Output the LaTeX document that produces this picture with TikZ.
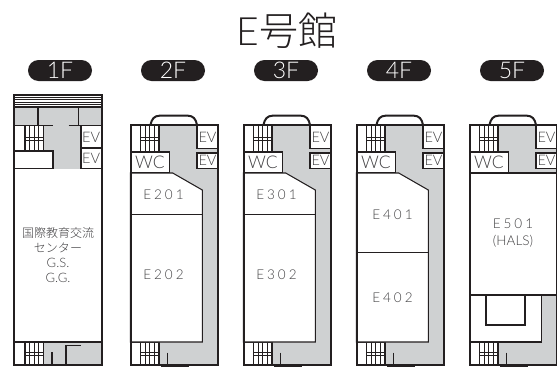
\documentclass[tikz,border=0pt]{standalone}
\usepackage{fontspec}
\setmainfont{Lato}[UprightFont=* Light]
\newfontfamily\jp{Noto Sans CJK JP}[UprightFont=* Light]
\definecolor{ink}{HTML}{231F20}
\definecolor{hall}{HTML}{CFD1D2}
\definecolor{txt}{HTML}{414042}
\newcommand{\stairflight}[4]{% x0 y0 y1 ymid
  \draw[fine] (#1,#2) -- (#1,#3);
  \foreach \q in {4.5,9,13.5}{\draw[hair] (#1+\q,#2) -- (#1+\q,#3);}
  \draw[fine] (#1+18.3,#2) -- (#1+18.3,#3);
  \draw[hair] (#1,#4) -- (#1+18.3,#4) (#1,#4+3) -- (#1+18.3,#4+3);
}
\newcommand{\upperfloor}{%
  \fill[hall] (0,125) rectangle (87,364.5);
  \fill[white] (0,125) rectangle (28.5,152);
  \fill[white] (0,342) rectangle (28.5,364.5);
  \stairflight{10.2}{125}{152}{137}
  \stairflight{10.2}{342}{364.5}{352.5}
  \draw[fine,fill=white] (0,152) rectangle (39,173);
  \draw[fine,fill=white] (66.5,125) rectangle (87,148.7);
  \draw[fine,fill=white] (66.5,153) rectangle (87,168.5);
  \draw[fine] (0,342) -- (28.5,342);
  \draw[fine] (37.2,352.5) -- (37.2,364.5);
  \draw[wall] (20,125) .. controls (21,119) and (24,115.7) .. (29,115.7) -- (57.5,115.7) .. controls (62.5,115.7) and (65.5,119) .. (66.5,125);
  \draw[wall] (30,366) -- (58,366);
}
\newcommand{\roomsA}{%
  \draw[fine,fill=white] (0,173) -- (42.2,173) -- (71.8,190) -- (71.8,342) -- (0,342) -- cycle;
}
\begin{document}
\begin{tikzpicture}[x=1pt,y=-1pt,
  wall/.style={draw=ink,line width=2pt},
  fine/.style={draw=ink,line width=1.05pt},
  hair/.style={draw=ink,line width=0.8pt},
  pill/.style={fill=ink,rounded corners=10.5pt,minimum width=64pt,minimum height=21pt,inner sep=0pt,text=white,font=\fontsize{23}{23}\selectfont},
  room/.style={text=txt,font=\fontsize{13.5}{16}\selectfont\addfontfeature{LetterSpace=22},align=center,inner sep=0pt},
  wc/.style={text=txt,inner sep=0pt,font=\fontsize{17.5}{17}\selectfont},
  ev/.style={text=txt,inner sep=0pt,font=\fontsize{14.5}{14}\selectfont},
  lab/.style={text=txt,align=center,inner sep=0pt}]
\useasboundingbox (0,0) rectangle (557,367);
\fill[white] (0,0) rectangle (557,367);
\node[text=ink,inner sep=0pt,font=\fontsize{39}{39}\selectfont] (title) at (287,31) {E{\jp 号館}};
\node[pill] (p1) at (60,70.5) {1F};
\node[pill] (p2) at (173,70.5) {2F};
\node[pill] (p3) at (286,70.5) {3F};
\node[pill] (p4) at (399,70.5) {4F};
\node[pill] (p5) at (512,70.5) {5F};
% 1F
\begin{scope}[shift={(14,0)}]
  \fill[hall] (0,107) rectangle (87.5,125.5);
  \fill[hall] (30,125.5) rectangle (67,168.5);
  \fill[hall] (29,342) rectangle (87.5,365);
  \foreach \yy in {97,99.5,102,104.5}{\draw[hair] (0,\yy) -- (87.5,\yy);}
  \draw[fine] (0,107) -- (87.5,107);
  \draw[fine] (24,107) -- (24,125.5) (64.5,107) -- (64.5,125.5);
  \draw[fine] (0,125.5) -- (38.5,125.5) (54.5,125.5) -- (87.5,125.5);
  \stairflight{11}{125.5}{151}{137}
  \draw[fine,fill=white] (0,151) -- (39,151) -- (39,168.5) -- (0,168.5);
  \draw[fine,fill=white] (67,125.5) rectangle (87.5,148);
  \draw[fine,fill=white] (67,148) rectangle (87.5,168.5);
  \draw[fine] (0,342) -- (87.5,342);
  \stairflight{11}{342}{365}{352}
  \draw[fine] (38,352) -- (38,365);
  \draw[fine] (52,365) -- (52,345.5) -- (67,345.5);
  \draw[wall] (0,94.5) rectangle (87.5,365);
  \node[ev] (ev1a) at (77.2,137) {EV};
  \node[ev] (ev1b) at (77.2,158.5) {EV};
\end{scope}
\node[lab,font=\jp\fontsize{12}{14}\selectfont] (a1) at (58,233) {国際教育交流};
\node[lab,font=\jp\fontsize{12}{14}\selectfont] (a2) at (58,247.5) {センター};
\node[lab,font=\fontsize{13}{14}\selectfont] (a3) at (58,262.5) {G.S.};
\node[lab,font=\fontsize{13}{14}\selectfont] (a4) at (58,277.5) {G.G.};
% 2F
\begin{scope}[shift={(130.5,0)}]
  \upperfloor \roomsA
  \draw[fine] (0,214.5) -- (71.8,214.5);
  \draw[wall] (0,125) rectangle (87,364.5);
  \node[wc] (wc2) at (19.5,162.5) {WC};
  \node[ev] (ev2a) at (77,137) {EV};
  \node[ev] (ev2b) at (77,160.5) {EV};
  \node[room] (e201) at (33,195) {E201};
  \node[room] (e202) at (33,275) {E202};
\end{scope}
% 3F
\begin{scope}[shift={(243.5,0)}]
  \upperfloor \roomsA
  \draw[fine] (0,214.5) -- (71.8,214.5);
  \draw[wall] (0,125) rectangle (87,364.5);
  \node[wc] (wc3) at (19.5,162.5) {WC};
  \node[ev] (ev3a) at (77,137) {EV};
  \node[ev] (ev3b) at (77,160.5) {EV};
  \node[room] (e301) at (33,195) {E301};
  \node[room] (e302) at (33,275) {E302};
\end{scope}
% 4F
\begin{scope}[shift={(356.5,0)}]
  \upperfloor \roomsA
  \draw[fine] (0,252.7) -- (71.8,252.7);
  \draw[wall] (0,125) rectangle (87,364.5);
  \node[wc] (wc4) at (19.5,162.5) {WC};
  \node[ev] (ev4a) at (77,137) {EV};
  \node[ev] (ev4b) at (77,160.5) {EV};
  \node[room] (e401) at (36,215) {E401};
  \node[room] (e402) at (36,298) {E402};
\end{scope}
% 5F
\begin{scope}[shift={(469.5,0)}]
  \upperfloor
  \draw[fine,fill=white] (0,173) rectangle (87,295);
  \draw[fine,fill=white] (0,295) -- (72,295) -- (72,342) -- (0,342) -- cycle;
  \draw[fine] (16.5,295) -- (16.5,325) -- (55.5,325) -- (55.5,295);
  \draw[wall] (0,125) rectangle (87,364.5);
  \node[wc] (wc5) at (19.5,162.5) {WC};
  \node[ev] (ev5a) at (77,137) {EV};
  \node[ev] (ev5b) at (77,160.5) {EV};
  \node[room] (e501) at (43.5,224) {E501};
  \node[lab,font=\fontsize{13.5}{14}\selectfont] (hals) at (43.5,241) {(HALS)};
\end{scope}
\end{tikzpicture}
\end{document}
